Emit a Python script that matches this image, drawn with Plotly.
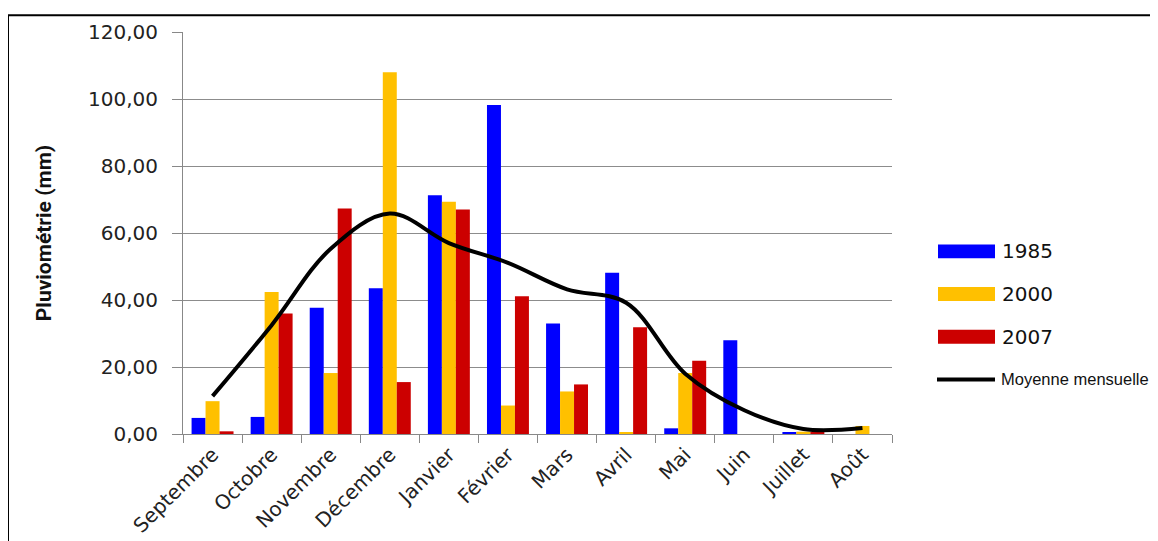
import plotly.graph_objects as go

months = ["Septembre", "Octobre", "Novembre", "Décembre", "Janvier", "Février",
          "Mars", "Avril", "Mai", "Juin", "Juillet", "Août"]
v1985 = [4.8, 5.1, 37.7, 43.5, 71.3, 98.2, 33.0, 48.1, 1.7, 28.0, 0.4, 0.0]
v2000 = [9.8, 42.4, 18.2, 108.0, 69.3, 8.5, 12.7, 0.4, 18.2, 0.0, 0.7, 2.4]
v2007 = [0.8, 36.0, 67.3, 15.5, 67.0, 41.1, 14.8, 31.9, 21.9, 0.0, 0.5, 0.0]
moyenne = [11.3, 32.5, 55.3, 65.8, 57.0, 51.1, 43.2, 39.2, 18.0, 7.1, 1.5, 1.8]

series_names = ["1985", "2000", "2007"]
series_vals = [v1985, v2000, v2007]
colors = ["#0000FF", "#FFC000", "#CC0000"]
mean_name = "Moyenne mensuelle"

W, H = 1158, 541
OFF = 8  # page body margin
# plot area in rendered (screen) pixels
SL, SR, ST, SB = 183, 892, 29, 434
L, R, T, B = SL - OFF, SR - OFF, ST - OFF, SB - OFF


def px(x):
    return (x - OFF - L) / (R - L)


def py(y):
    return (B - (y - OFF)) / (B - T)


fig = go.Figure()
for name, vals, c in zip(series_names, series_vals, colors):
    fig.add_trace(go.Bar(x=months, y=vals, name=name, marker_color=c,
                         marker_line_width=0, showlegend=False))
fig.add_trace(go.Scatter(x=months, y=moyenne, name=mean_name, mode="lines",
                         line=dict(color="black", width=4, shape="spline", smoothing=1.0),
                         showlegend=False))

shapes = [dict(type="rect", xref="paper", yref="paper",
               x0=px(8), x1=px(1230), y0=py(600), y1=py(12),
               line=dict(color="black", width=2), fillcolor="rgba(0,0,0,0)", layer="below")]
annotations = []
leg_y = [250, 293, 336, 379]
for i, (name, c) in enumerate(zip(series_names, colors)):
    shapes.append(dict(type="rect", xref="paper", yref="paper",
                       x0=px(938), x1=px(995), y0=py(leg_y[i] + 7), y1=py(leg_y[i] - 7),
                       fillcolor=c, line=dict(width=0)))
    annotations.append(dict(xref="paper", yref="paper", x=px(1000), y=py(leg_y[i]),
                            text=name, showarrow=False, xanchor="left", yanchor="middle",
                            font=dict(size=20, color="#111", family="DejaVu Sans")))
shapes.append(dict(type="line", xref="paper", yref="paper",
                   x0=px(937), x1=px(995), y0=py(leg_y[3]), y1=py(leg_y[3]),
                   line=dict(color="black", width=4)))
annotations.append(dict(xref="paper", yref="paper", x=px(999), y=py(leg_y[3]),
                        text=mean_name, showarrow=False, xanchor="left", yanchor="middle",
                        font=dict(size=16.5, color="#111", family="Liberation Sans")))

fig.update_layout(
    width=W, height=H,
    margin=dict(l=L, r=W - R, t=T, b=H - B, pad=0),
    paper_bgcolor="white", plot_bgcolor="white",
    barmode="group", bargap=0.29, bargroupgap=0.0,
    separators=", ",
    shapes=shapes, annotations=annotations,
    showlegend=False,
    font=dict(family="DejaVu Sans", size=19, color="#222"),
)
fig.update_xaxes(
    type="category", tickangle=-45, showgrid=False,
    showline=True, linecolor="#888", linewidth=1,
    ticks="outside", tickson="boundaries", ticklen=8, tickcolor="#888",
    tickfont=dict(size=20, family="DejaVu Sans", color="#222"),
)
fig.update_yaxes(
    range=[0, 120], dtick=20, tickformat=".2f",
    showgrid=True, gridcolor="#8c8c8c", gridwidth=1,
    showline=True, linecolor="#888", linewidth=1,
    ticks="outside", ticklen=10, tickcolor="#888",
    ticklabelstandoff=10,
    tickfont=dict(size=20, family="DejaVu Sans", color="#222"),
    zeroline=False,
    title=dict(text="<b>Pluviométrie (mm)</b>", standoff=30,
               font=dict(size=21, family="Liberation Sans Narrow, Roboto, sans-serif", color="#111")),
)
fig.write_html("out.html")
